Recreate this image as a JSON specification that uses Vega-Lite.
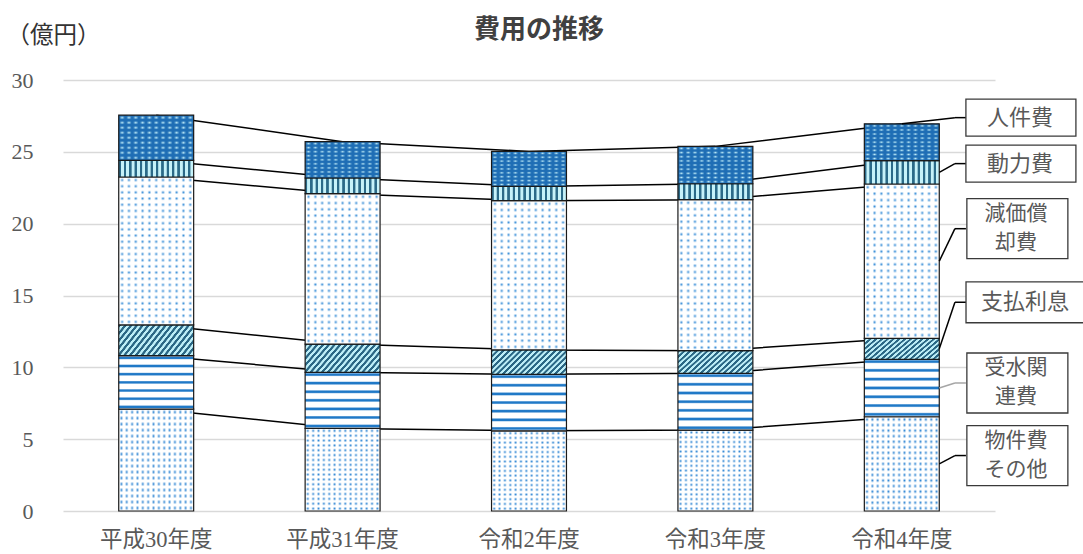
{
  "$schema": "https://vega.github.io/schema/vega-lite/v6.json",
  "width": 932,
  "height": 431,
  "autosize": {"type": "none"},
  "padding": {"left": 63, "top": 80, "right": 88, "bottom": 43},
  "background": "white",
  "title": {
    "text": "費用の推移",
    "frame": "group",
    "anchor": "middle",
    "baseline": "middle",
    "offset": 28,
    "dx": 10,
    "dy": 61,
    "font": "Noto Sans CJK JP",
    "fontSize": 26,
    "fontWeight": "bold",
    "color": "#404040"
  },
  "datasets": {
    "costs": [
      {"year": "平成30年度", "cat": "物件費その他", "value": 7.09},
      {"year": "平成30年度", "cat": "受水関連費", "value": 3.72},
      {"year": "平成30年度", "cat": "支払利息", "value": 2.14},
      {"year": "平成30年度", "cat": "減価償却費", "value": 10.30},
      {"year": "平成30年度", "cat": "動力費", "value": 1.16},
      {"year": "平成30年度", "cat": "人件費", "value": 3.14},
      {"year": "平成31年度", "cat": "物件費その他", "value": 5.75},
      {"year": "平成31年度", "cat": "受水関連費", "value": 3.90},
      {"year": "平成31年度", "cat": "支払利息", "value": 1.97},
      {"year": "平成31年度", "cat": "減価償却費", "value": 10.47},
      {"year": "平成31年度", "cat": "動力費", "value": 1.09},
      {"year": "平成31年度", "cat": "人件費", "value": 2.53},
      {"year": "令和2年度", "cat": "物件費その他", "value": 5.58},
      {"year": "令和2年度", "cat": "受水関連費", "value": 3.93},
      {"year": "令和2年度", "cat": "支払利息", "value": 1.70},
      {"year": "令和2年度", "cat": "減価償却費", "value": 10.39},
      {"year": "令和2年度", "cat": "動力費", "value": 0.99},
      {"year": "令和2年度", "cat": "人件費", "value": 2.44},
      {"year": "令和3年度", "cat": "物件費その他", "value": 5.63},
      {"year": "令和3年度", "cat": "受水関連費", "value": 3.95},
      {"year": "令和3年度", "cat": "支払利息", "value": 1.58},
      {"year": "令和3年度", "cat": "減価償却費", "value": 10.51},
      {"year": "令和3年度", "cat": "動力費", "value": 1.11},
      {"year": "令和3年度", "cat": "人件費", "value": 2.60},
      {"year": "令和4年度", "cat": "物件費その他", "value": 6.56},
      {"year": "令和4年度", "cat": "受水関連費", "value": 4.00},
      {"year": "令和4年度", "cat": "支払利息", "value": 1.46},
      {"year": "令和4年度", "cat": "減価償却費", "value": 10.74},
      {"year": "令和4年度", "cat": "動力費", "value": 1.63},
      {"year": "令和4年度", "cat": "人件費", "value": 2.56}
    ],
    "labels": [
      {"cat": "人件費", "label": "人件費", "labelY": 27.38},
      {"cat": "動力費", "label": "動力費", "labelY": 24.18},
      {"cat": "減価償却費", "label": "減価償\n却費", "labelY": 19.65},
      {"cat": "支払利息", "label": "支払利息", "labelY": 14.53},
      {"cat": "受水関連費", "label": "受水関\n連費", "labelY": 8.91},
      {"cat": "物件費その他", "label": "物件費\nその他", "labelY": 3.86}
    ]
  },
  "data": {"name": "costs"},
  "transform": [
    {"calculate": "indexof(['物件費その他','受水関連費','支払利息','減価償却費','動力費','人件費'], datum.cat)", "as": "k"},
    {"calculate": "indexof(['平成30年度','平成31年度','令和2年度','令和3年度','令和4年度'], datum.year)", "as": "yi"},
    {"stack": "value", "groupby": ["year"], "sort": [{"field": "k", "order": "ascending"}], "as": ["y0", "y1"]}
  ],
  "layer": [
    {
      "layer": [
        {
          "mark": {"type": "line", "color": "#000000", "strokeWidth": 1.5},
          "encoding": {
            "x": {
              "field": "year", "type": "nominal",
              "sort": ["平成30年度", "平成31年度", "令和2年度", "令和3年度", "令和4年度"],
              "scale": {"paddingInner": 0.598, "paddingOuter": 0.299},
              "axis": {
                "title": null, "labelAngle": 0,
                "labelFont": "Liberation Serif, Noto Sans CJK JP",
                "labelFontSize": 22.5, "labelColor": "#595959", "labelPadding": 17,
                "domain": false, "ticks": false, "grid": false
              }
            },
            "y": {
              "field": "y1", "type": "quantitative",
              "scale": {"domain": [0, 30], "nice": false},
              "axis": {
                "values": [0, 5, 10, 15, 20, 25, 30],
                "title": "（億円）", "titleAngle": 0, "titleAlign": "left", "titleBaseline": "middle",
                "titleX": -57, "titleY": -45, "titleFont": "Noto Sans CJK JP", "titleFontSize": 23.5,
                "titleFontWeight": "normal", "titleColor": "#333333",
                "labelFont": "Liberation Serif", "labelFontSize": 22, "labelColor": "#595959", "labelPadding": 30,
                "domain": false, "ticks": false, "grid": true, "gridColor": "#d9d9d9", "gridWidth": 1.5
              }
            },
            "detail": {"field": "cat"},
            "order": {"field": "yi"}
          }
        },
        {
          "transform": [{"filter": "datum.cat === '物件費その他'"}],
          "mark": {"type": "bar", "fill": {"gradient": "linear", "x1": 0, "y1": 0, "x2": 0, "y2": 1, "stops": [
            {"offset": 0.0059, "color": "#ffffff"}, {"offset": 0.0294, "color": "#2f86d4"}, {"offset": 0.0529, "color": "#ffffff"},
            {"offset": 0.0647, "color": "#ffffff"}, {"offset": 0.0882, "color": "#2f86d4"}, {"offset": 0.1117, "color": "#ffffff"},
            {"offset": 0.1236, "color": "#ffffff"}, {"offset": 0.1471, "color": "#2f86d4"}, {"offset": 0.1706, "color": "#ffffff"},
            {"offset": 0.1824, "color": "#ffffff"}, {"offset": 0.2059, "color": "#2f86d4"}, {"offset": 0.2294, "color": "#ffffff"},
            {"offset": 0.2412, "color": "#ffffff"}, {"offset": 0.2647, "color": "#2f86d4"}, {"offset": 0.2882, "color": "#ffffff"},
            {"offset": 0.3, "color": "#ffffff"}, {"offset": 0.3235, "color": "#2f86d4"}, {"offset": 0.347, "color": "#ffffff"},
            {"offset": 0.3589, "color": "#ffffff"}, {"offset": 0.3824, "color": "#2f86d4"}, {"offset": 0.4059, "color": "#ffffff"},
            {"offset": 0.4177, "color": "#ffffff"}, {"offset": 0.4412, "color": "#2f86d4"}, {"offset": 0.4647, "color": "#ffffff"},
            {"offset": 0.4765, "color": "#ffffff"}, {"offset": 0.5, "color": "#2f86d4"}, {"offset": 0.5235, "color": "#ffffff"},
            {"offset": 0.5353, "color": "#ffffff"}, {"offset": 0.5588, "color": "#2f86d4"}, {"offset": 0.5823, "color": "#ffffff"},
            {"offset": 0.5941, "color": "#ffffff"}, {"offset": 0.6176, "color": "#2f86d4"}, {"offset": 0.6411, "color": "#ffffff"},
            {"offset": 0.653, "color": "#ffffff"}, {"offset": 0.6765, "color": "#2f86d4"}, {"offset": 0.7, "color": "#ffffff"},
            {"offset": 0.7118, "color": "#ffffff"}, {"offset": 0.7353, "color": "#2f86d4"}, {"offset": 0.7588, "color": "#ffffff"},
            {"offset": 0.7706, "color": "#ffffff"}, {"offset": 0.7941, "color": "#2f86d4"}, {"offset": 0.8176, "color": "#ffffff"},
            {"offset": 0.8294, "color": "#ffffff"}, {"offset": 0.8529, "color": "#2f86d4"}, {"offset": 0.8764, "color": "#ffffff"},
            {"offset": 0.8883, "color": "#ffffff"}, {"offset": 0.9118, "color": "#2f86d4"}, {"offset": 0.9353, "color": "#ffffff"},
            {"offset": 0.9471, "color": "#ffffff"}, {"offset": 0.9706, "color": "#2f86d4"}, {"offset": 0.9941, "color": "#ffffff"}
          ]}},
          "encoding": {
            "x": {"field": "year", "type": "nominal", "sort": ["平成30年度", "平成31年度", "令和2年度", "令和3年度", "令和4年度"]},
            "y": {"field": "y0", "type": "quantitative"},
            "y2": {"field": "y1"}
          }
        },
        {
          "transform": [{"filter": "datum.cat === '物件費その他'"}],
          "mark": {"type": "bar", "stroke": "#1a1a1a", "strokeWidth": 1.2, "fill": {"gradient": "linear", "x1": 0, "y1": 0, "x2": 1, "y2": 0, "stops": [
            {"offset": 0.0107, "color": "rgba(255,255,255,1)"}, {"offset": 0.0357, "color": "rgba(255,255,255,0)"}, {"offset": 0.0607, "color": "rgba(255,255,255,1)"},
            {"offset": 0.0821, "color": "rgba(255,255,255,1)"}, {"offset": 0.1071, "color": "rgba(255,255,255,0)"}, {"offset": 0.1321, "color": "rgba(255,255,255,1)"},
            {"offset": 0.1536, "color": "rgba(255,255,255,1)"}, {"offset": 0.1786, "color": "rgba(255,255,255,0)"}, {"offset": 0.2036, "color": "rgba(255,255,255,1)"},
            {"offset": 0.225, "color": "rgba(255,255,255,1)"}, {"offset": 0.25, "color": "rgba(255,255,255,0)"}, {"offset": 0.275, "color": "rgba(255,255,255,1)"},
            {"offset": 0.2964, "color": "rgba(255,255,255,1)"}, {"offset": 0.3214, "color": "rgba(255,255,255,0)"}, {"offset": 0.3464, "color": "rgba(255,255,255,1)"},
            {"offset": 0.3679, "color": "rgba(255,255,255,1)"}, {"offset": 0.3929, "color": "rgba(255,255,255,0)"}, {"offset": 0.4179, "color": "rgba(255,255,255,1)"},
            {"offset": 0.4393, "color": "rgba(255,255,255,1)"}, {"offset": 0.4643, "color": "rgba(255,255,255,0)"}, {"offset": 0.4893, "color": "rgba(255,255,255,1)"},
            {"offset": 0.5107, "color": "rgba(255,255,255,1)"}, {"offset": 0.5357, "color": "rgba(255,255,255,0)"}, {"offset": 0.5607, "color": "rgba(255,255,255,1)"},
            {"offset": 0.5821, "color": "rgba(255,255,255,1)"}, {"offset": 0.6071, "color": "rgba(255,255,255,0)"}, {"offset": 0.6321, "color": "rgba(255,255,255,1)"},
            {"offset": 0.6536, "color": "rgba(255,255,255,1)"}, {"offset": 0.6786, "color": "rgba(255,255,255,0)"}, {"offset": 0.7036, "color": "rgba(255,255,255,1)"},
            {"offset": 0.725, "color": "rgba(255,255,255,1)"}, {"offset": 0.75, "color": "rgba(255,255,255,0)"}, {"offset": 0.775, "color": "rgba(255,255,255,1)"},
            {"offset": 0.7964, "color": "rgba(255,255,255,1)"}, {"offset": 0.8214, "color": "rgba(255,255,255,0)"}, {"offset": 0.8464, "color": "rgba(255,255,255,1)"},
            {"offset": 0.8679, "color": "rgba(255,255,255,1)"}, {"offset": 0.8929, "color": "rgba(255,255,255,0)"}, {"offset": 0.9179, "color": "rgba(255,255,255,1)"},
            {"offset": 0.9393, "color": "rgba(255,255,255,1)"}, {"offset": 0.9643, "color": "rgba(255,255,255,0)"}, {"offset": 0.9893, "color": "rgba(255,255,255,1)"}
          ]}},
          "encoding": {
            "x": {"field": "year", "type": "nominal", "sort": ["平成30年度", "平成31年度", "令和2年度", "令和3年度", "令和4年度"]},
            "y": {"field": "y0", "type": "quantitative"},
            "y2": {"field": "y1"}
          }
        },
        {
          "transform": [{"filter": "datum.cat === '受水関連費'"}],
          "mark": {"type": "bar", "stroke": "#1a1a1a", "strokeWidth": 1.2, "fill": {"gradient": "linear", "x1": 0, "y1": 0, "x2": 0, "y2": 1, "stops": [
            {"offset": 0.005, "color": "#ffffff"}, {"offset": 0.028, "color": "#2079c7"}, {"offset": 0.052, "color": "#2079c7"}, {"offset": 0.075, "color": "#ffffff"},
            {"offset": 0.158, "color": "#ffffff"}, {"offset": 0.181, "color": "#2079c7"}, {"offset": 0.205, "color": "#2079c7"}, {"offset": 0.228, "color": "#ffffff"},
            {"offset": 0.311, "color": "#ffffff"}, {"offset": 0.334, "color": "#2079c7"}, {"offset": 0.358, "color": "#2079c7"}, {"offset": 0.381, "color": "#ffffff"},
            {"offset": 0.464, "color": "#ffffff"}, {"offset": 0.487, "color": "#2079c7"}, {"offset": 0.511, "color": "#2079c7"}, {"offset": 0.534, "color": "#ffffff"},
            {"offset": 0.617, "color": "#ffffff"}, {"offset": 0.64, "color": "#2079c7"}, {"offset": 0.664, "color": "#2079c7"}, {"offset": 0.687, "color": "#ffffff"},
            {"offset": 0.77, "color": "#ffffff"}, {"offset": 0.793, "color": "#2079c7"}, {"offset": 0.817, "color": "#2079c7"}, {"offset": 0.84, "color": "#ffffff"},
            {"offset": 0.923, "color": "#ffffff"}, {"offset": 0.946, "color": "#2079c7"}, {"offset": 0.97, "color": "#2079c7"}, {"offset": 0.993, "color": "#ffffff"}
          ]}},
          "encoding": {
            "x": {"field": "year", "type": "nominal", "sort": ["平成30年度", "平成31年度", "令和2年度", "令和3年度", "令和4年度"]},
            "y": {"field": "y0", "type": "quantitative"},
            "y2": {"field": "y1"}
          }
        },
        {
          "transform": [{"filter": "datum.cat === '支払利息'"}],
          "mark": {"type": "bar", "stroke": "#1a1a1a", "strokeWidth": 1.2, "fill": {"gradient": "linear", "x1": 0, "y1": 0, "x2": 1.25, "y2": 0.41, "stops": [
            {"offset": 0, "color": "#2a6785"}, {"offset": 0.0222, "color": "#2a6785"}, {"offset": 0.0278, "color": "#bdeef7"}, {"offset": 0.05, "color": "#bdeef7"},
            {"offset": 0.0556, "color": "#2a6785"}, {"offset": 0.0778, "color": "#2a6785"}, {"offset": 0.0833, "color": "#bdeef7"}, {"offset": 0.1056, "color": "#bdeef7"},
            {"offset": 0.1111, "color": "#2a6785"}, {"offset": 0.1333, "color": "#2a6785"}, {"offset": 0.1389, "color": "#bdeef7"}, {"offset": 0.1611, "color": "#bdeef7"},
            {"offset": 0.1667, "color": "#2a6785"}, {"offset": 0.1889, "color": "#2a6785"}, {"offset": 0.1944, "color": "#bdeef7"}, {"offset": 0.2167, "color": "#bdeef7"},
            {"offset": 0.2222, "color": "#2a6785"}, {"offset": 0.2444, "color": "#2a6785"}, {"offset": 0.25, "color": "#bdeef7"}, {"offset": 0.2722, "color": "#bdeef7"},
            {"offset": 0.2778, "color": "#2a6785"}, {"offset": 0.3, "color": "#2a6785"}, {"offset": 0.3056, "color": "#bdeef7"}, {"offset": 0.3278, "color": "#bdeef7"},
            {"offset": 0.3333, "color": "#2a6785"}, {"offset": 0.3556, "color": "#2a6785"}, {"offset": 0.3611, "color": "#bdeef7"}, {"offset": 0.3833, "color": "#bdeef7"},
            {"offset": 0.3889, "color": "#2a6785"}, {"offset": 0.4111, "color": "#2a6785"}, {"offset": 0.4167, "color": "#bdeef7"}, {"offset": 0.4389, "color": "#bdeef7"},
            {"offset": 0.4444, "color": "#2a6785"}, {"offset": 0.4667, "color": "#2a6785"}, {"offset": 0.4722, "color": "#bdeef7"}, {"offset": 0.4944, "color": "#bdeef7"},
            {"offset": 0.5, "color": "#2a6785"}, {"offset": 0.5222, "color": "#2a6785"}, {"offset": 0.5278, "color": "#bdeef7"}, {"offset": 0.55, "color": "#bdeef7"},
            {"offset": 0.5556, "color": "#2a6785"}, {"offset": 0.5778, "color": "#2a6785"}, {"offset": 0.5833, "color": "#bdeef7"}, {"offset": 0.6056, "color": "#bdeef7"},
            {"offset": 0.6111, "color": "#2a6785"}, {"offset": 0.6333, "color": "#2a6785"}, {"offset": 0.6389, "color": "#bdeef7"}, {"offset": 0.6611, "color": "#bdeef7"},
            {"offset": 0.6667, "color": "#2a6785"}, {"offset": 0.6889, "color": "#2a6785"}, {"offset": 0.6944, "color": "#bdeef7"}, {"offset": 0.7167, "color": "#bdeef7"},
            {"offset": 0.7222, "color": "#2a6785"}, {"offset": 0.7444, "color": "#2a6785"}, {"offset": 0.75, "color": "#bdeef7"}, {"offset": 0.7722, "color": "#bdeef7"},
            {"offset": 0.7778, "color": "#2a6785"}, {"offset": 0.8, "color": "#2a6785"}, {"offset": 0.8056, "color": "#bdeef7"}, {"offset": 0.8278, "color": "#bdeef7"},
            {"offset": 0.8333, "color": "#2a6785"}, {"offset": 0.8556, "color": "#2a6785"}, {"offset": 0.8611, "color": "#bdeef7"}, {"offset": 0.8833, "color": "#bdeef7"},
            {"offset": 0.8889, "color": "#2a6785"}, {"offset": 0.9111, "color": "#2a6785"}, {"offset": 0.9167, "color": "#bdeef7"}, {"offset": 0.9389, "color": "#bdeef7"},
            {"offset": 0.9444, "color": "#2a6785"}, {"offset": 0.9667, "color": "#2a6785"}, {"offset": 0.9722, "color": "#bdeef7"}, {"offset": 0.9944, "color": "#bdeef7"}
          ]}},
          "encoding": {
            "x": {"field": "year", "type": "nominal", "sort": ["平成30年度", "平成31年度", "令和2年度", "令和3年度", "令和4年度"]},
            "y": {"field": "y0", "type": "quantitative"},
            "y2": {"field": "y1"}
          }
        },
        {
          "transform": [{"filter": "datum.cat === '減価償却費'"}],
          "mark": {"type": "bar", "fill": {"gradient": "linear", "x1": 0, "y1": 0, "x2": 0, "y2": 1, "stops": [
            {"offset": 0.0068, "color": "#ffffff"}, {"offset": 0.0208, "color": "#3a8fd8"}, {"offset": 0.0348, "color": "#ffffff"},
            {"offset": 0.0485, "color": "#ffffff"}, {"offset": 0.0625, "color": "#3a8fd8"}, {"offset": 0.0765, "color": "#ffffff"},
            {"offset": 0.0902, "color": "#ffffff"}, {"offset": 0.1042, "color": "#3a8fd8"}, {"offset": 0.1182, "color": "#ffffff"},
            {"offset": 0.1318, "color": "#ffffff"}, {"offset": 0.1458, "color": "#3a8fd8"}, {"offset": 0.1598, "color": "#ffffff"},
            {"offset": 0.1735, "color": "#ffffff"}, {"offset": 0.1875, "color": "#3a8fd8"}, {"offset": 0.2015, "color": "#ffffff"},
            {"offset": 0.2152, "color": "#ffffff"}, {"offset": 0.2292, "color": "#3a8fd8"}, {"offset": 0.2432, "color": "#ffffff"},
            {"offset": 0.2568, "color": "#ffffff"}, {"offset": 0.2708, "color": "#3a8fd8"}, {"offset": 0.2848, "color": "#ffffff"},
            {"offset": 0.2985, "color": "#ffffff"}, {"offset": 0.3125, "color": "#3a8fd8"}, {"offset": 0.3265, "color": "#ffffff"},
            {"offset": 0.3402, "color": "#ffffff"}, {"offset": 0.3542, "color": "#3a8fd8"}, {"offset": 0.3682, "color": "#ffffff"},
            {"offset": 0.3818, "color": "#ffffff"}, {"offset": 0.3958, "color": "#3a8fd8"}, {"offset": 0.4098, "color": "#ffffff"},
            {"offset": 0.4235, "color": "#ffffff"}, {"offset": 0.4375, "color": "#3a8fd8"}, {"offset": 0.4515, "color": "#ffffff"},
            {"offset": 0.4652, "color": "#ffffff"}, {"offset": 0.4792, "color": "#3a8fd8"}, {"offset": 0.4932, "color": "#ffffff"},
            {"offset": 0.5068, "color": "#ffffff"}, {"offset": 0.5208, "color": "#3a8fd8"}, {"offset": 0.5348, "color": "#ffffff"},
            {"offset": 0.5485, "color": "#ffffff"}, {"offset": 0.5625, "color": "#3a8fd8"}, {"offset": 0.5765, "color": "#ffffff"},
            {"offset": 0.5902, "color": "#ffffff"}, {"offset": 0.6042, "color": "#3a8fd8"}, {"offset": 0.6182, "color": "#ffffff"},
            {"offset": 0.6318, "color": "#ffffff"}, {"offset": 0.6458, "color": "#3a8fd8"}, {"offset": 0.6598, "color": "#ffffff"},
            {"offset": 0.6735, "color": "#ffffff"}, {"offset": 0.6875, "color": "#3a8fd8"}, {"offset": 0.7015, "color": "#ffffff"},
            {"offset": 0.7152, "color": "#ffffff"}, {"offset": 0.7292, "color": "#3a8fd8"}, {"offset": 0.7432, "color": "#ffffff"},
            {"offset": 0.7568, "color": "#ffffff"}, {"offset": 0.7708, "color": "#3a8fd8"}, {"offset": 0.7848, "color": "#ffffff"},
            {"offset": 0.7985, "color": "#ffffff"}, {"offset": 0.8125, "color": "#3a8fd8"}, {"offset": 0.8265, "color": "#ffffff"},
            {"offset": 0.8402, "color": "#ffffff"}, {"offset": 0.8542, "color": "#3a8fd8"}, {"offset": 0.8682, "color": "#ffffff"},
            {"offset": 0.8818, "color": "#ffffff"}, {"offset": 0.8958, "color": "#3a8fd8"}, {"offset": 0.9098, "color": "#ffffff"},
            {"offset": 0.9235, "color": "#ffffff"}, {"offset": 0.9375, "color": "#3a8fd8"}, {"offset": 0.9515, "color": "#ffffff"},
            {"offset": 0.9652, "color": "#ffffff"}, {"offset": 0.9792, "color": "#3a8fd8"}, {"offset": 0.9932, "color": "#ffffff"}
          ]}},
          "encoding": {
            "x": {"field": "year", "type": "nominal", "sort": ["平成30年度", "平成31年度", "令和2年度", "令和3年度", "令和4年度"]},
            "y": {"field": "y0", "type": "quantitative"},
            "y2": {"field": "y1"}
          }
        },
        {
          "transform": [{"filter": "datum.cat === '減価償却費'"}],
          "mark": {"type": "bar", "stroke": "#1a1a1a", "strokeWidth": 1.2, "fill": {"gradient": "linear", "x1": 0, "y1": 0, "x2": 1, "y2": 0, "stops": [
            {"offset": 0.0185, "color": "rgba(255,255,255,1)"}, {"offset": 0.0455, "color": "rgba(255,255,255,0)"}, {"offset": 0.0725, "color": "rgba(255,255,255,1)"},
            {"offset": 0.1094, "color": "rgba(255,255,255,1)"}, {"offset": 0.1364, "color": "rgba(255,255,255,0)"}, {"offset": 0.1634, "color": "rgba(255,255,255,1)"},
            {"offset": 0.2003, "color": "rgba(255,255,255,1)"}, {"offset": 0.2273, "color": "rgba(255,255,255,0)"}, {"offset": 0.2543, "color": "rgba(255,255,255,1)"},
            {"offset": 0.2912, "color": "rgba(255,255,255,1)"}, {"offset": 0.3182, "color": "rgba(255,255,255,0)"}, {"offset": 0.3452, "color": "rgba(255,255,255,1)"},
            {"offset": 0.3821, "color": "rgba(255,255,255,1)"}, {"offset": 0.4091, "color": "rgba(255,255,255,0)"}, {"offset": 0.4361, "color": "rgba(255,255,255,1)"},
            {"offset": 0.473, "color": "rgba(255,255,255,1)"}, {"offset": 0.5, "color": "rgba(255,255,255,0)"}, {"offset": 0.527, "color": "rgba(255,255,255,1)"},
            {"offset": 0.5639, "color": "rgba(255,255,255,1)"}, {"offset": 0.5909, "color": "rgba(255,255,255,0)"}, {"offset": 0.6179, "color": "rgba(255,255,255,1)"},
            {"offset": 0.6548, "color": "rgba(255,255,255,1)"}, {"offset": 0.6818, "color": "rgba(255,255,255,0)"}, {"offset": 0.7088, "color": "rgba(255,255,255,1)"},
            {"offset": 0.7457, "color": "rgba(255,255,255,1)"}, {"offset": 0.7727, "color": "rgba(255,255,255,0)"}, {"offset": 0.7997, "color": "rgba(255,255,255,1)"},
            {"offset": 0.8366, "color": "rgba(255,255,255,1)"}, {"offset": 0.8636, "color": "rgba(255,255,255,0)"}, {"offset": 0.8906, "color": "rgba(255,255,255,1)"},
            {"offset": 0.9275, "color": "rgba(255,255,255,1)"}, {"offset": 0.9545, "color": "rgba(255,255,255,0)"}, {"offset": 0.9815, "color": "rgba(255,255,255,1)"}
          ]}},
          "encoding": {
            "x": {"field": "year", "type": "nominal", "sort": ["平成30年度", "平成31年度", "令和2年度", "令和3年度", "令和4年度"]},
            "y": {"field": "y0", "type": "quantitative"},
            "y2": {"field": "y1"}
          }
        },
        {
          "transform": [{"filter": "datum.cat === '動力費'"}],
          "mark": {"type": "bar", "stroke": "#1a1a1a", "strokeWidth": 1.2, "fill": {"gradient": "linear", "x1": 0, "y1": 0, "x2": 1, "y2": 0, "stops": [
            {"offset": 0, "color": "#2b6a88"}, {"offset": 0.025, "color": "#2b6a88"}, {"offset": 0.0321, "color": "#c6f2f9"}, {"offset": 0.0643, "color": "#c6f2f9"},
            {"offset": 0.0714, "color": "#2b6a88"}, {"offset": 0.0964, "color": "#2b6a88"}, {"offset": 0.1036, "color": "#c6f2f9"}, {"offset": 0.1357, "color": "#c6f2f9"},
            {"offset": 0.1429, "color": "#2b6a88"}, {"offset": 0.1679, "color": "#2b6a88"}, {"offset": 0.175, "color": "#c6f2f9"}, {"offset": 0.2071, "color": "#c6f2f9"},
            {"offset": 0.2143, "color": "#2b6a88"}, {"offset": 0.2393, "color": "#2b6a88"}, {"offset": 0.2464, "color": "#c6f2f9"}, {"offset": 0.2786, "color": "#c6f2f9"},
            {"offset": 0.2857, "color": "#2b6a88"}, {"offset": 0.3107, "color": "#2b6a88"}, {"offset": 0.3179, "color": "#c6f2f9"}, {"offset": 0.35, "color": "#c6f2f9"},
            {"offset": 0.3571, "color": "#2b6a88"}, {"offset": 0.3821, "color": "#2b6a88"}, {"offset": 0.3893, "color": "#c6f2f9"}, {"offset": 0.4214, "color": "#c6f2f9"},
            {"offset": 0.4286, "color": "#2b6a88"}, {"offset": 0.4536, "color": "#2b6a88"}, {"offset": 0.4607, "color": "#c6f2f9"}, {"offset": 0.4929, "color": "#c6f2f9"},
            {"offset": 0.5, "color": "#2b6a88"}, {"offset": 0.525, "color": "#2b6a88"}, {"offset": 0.5321, "color": "#c6f2f9"}, {"offset": 0.5643, "color": "#c6f2f9"},
            {"offset": 0.5714, "color": "#2b6a88"}, {"offset": 0.5964, "color": "#2b6a88"}, {"offset": 0.6036, "color": "#c6f2f9"}, {"offset": 0.6357, "color": "#c6f2f9"},
            {"offset": 0.6429, "color": "#2b6a88"}, {"offset": 0.6679, "color": "#2b6a88"}, {"offset": 0.675, "color": "#c6f2f9"}, {"offset": 0.7071, "color": "#c6f2f9"},
            {"offset": 0.7143, "color": "#2b6a88"}, {"offset": 0.7393, "color": "#2b6a88"}, {"offset": 0.7464, "color": "#c6f2f9"}, {"offset": 0.7786, "color": "#c6f2f9"},
            {"offset": 0.7857, "color": "#2b6a88"}, {"offset": 0.8107, "color": "#2b6a88"}, {"offset": 0.8179, "color": "#c6f2f9"}, {"offset": 0.85, "color": "#c6f2f9"},
            {"offset": 0.8571, "color": "#2b6a88"}, {"offset": 0.8821, "color": "#2b6a88"}, {"offset": 0.8893, "color": "#c6f2f9"}, {"offset": 0.9214, "color": "#c6f2f9"},
            {"offset": 0.9286, "color": "#2b6a88"}, {"offset": 0.9536, "color": "#2b6a88"}, {"offset": 0.9607, "color": "#c6f2f9"}, {"offset": 0.9929, "color": "#c6f2f9"}
          ]}},
          "encoding": {
            "x": {"field": "year", "type": "nominal", "sort": ["平成30年度", "平成31年度", "令和2年度", "令和3年度", "令和4年度"]},
            "y": {"field": "y0", "type": "quantitative"},
            "y2": {"field": "y1"}
          }
        },
        {
          "transform": [{"filter": "datum.cat === '人件費'"}],
          "mark": {"type": "bar", "fill": {"gradient": "linear", "x1": 0, "y1": 0, "x2": 0, "y2": 1, "stops": [
            {"offset": 0.0156, "color": "#1f6eb5"}, {"offset": 0.0556, "color": "#c3f0fb"}, {"offset": 0.0956, "color": "#1f6eb5"},
            {"offset": 0.1267, "color": "#1f6eb5"}, {"offset": 0.1667, "color": "#c3f0fb"}, {"offset": 0.2067, "color": "#1f6eb5"},
            {"offset": 0.2378, "color": "#1f6eb5"}, {"offset": 0.2778, "color": "#c3f0fb"}, {"offset": 0.3178, "color": "#1f6eb5"},
            {"offset": 0.3489, "color": "#1f6eb5"}, {"offset": 0.3889, "color": "#c3f0fb"}, {"offset": 0.4289, "color": "#1f6eb5"},
            {"offset": 0.46, "color": "#1f6eb5"}, {"offset": 0.5, "color": "#c3f0fb"}, {"offset": 0.54, "color": "#1f6eb5"},
            {"offset": 0.5711, "color": "#1f6eb5"}, {"offset": 0.6111, "color": "#c3f0fb"}, {"offset": 0.6511, "color": "#1f6eb5"},
            {"offset": 0.6822, "color": "#1f6eb5"}, {"offset": 0.7222, "color": "#c3f0fb"}, {"offset": 0.7622, "color": "#1f6eb5"},
            {"offset": 0.7933, "color": "#1f6eb5"}, {"offset": 0.8333, "color": "#c3f0fb"}, {"offset": 0.8733, "color": "#1f6eb5"},
            {"offset": 0.9044, "color": "#1f6eb5"}, {"offset": 0.9444, "color": "#c3f0fb"}, {"offset": 0.9844, "color": "#1f6eb5"}
          ]}},
          "encoding": {
            "x": {"field": "year", "type": "nominal", "sort": ["平成30年度", "平成31年度", "令和2年度", "令和3年度", "令和4年度"]},
            "y": {"field": "y0", "type": "quantitative"},
            "y2": {"field": "y1"}
          }
        },
        {
          "transform": [{"filter": "datum.cat === '人件費'"}],
          "mark": {"type": "bar", "stroke": "#1a1a1a", "strokeWidth": 1.2, "fill": {"gradient": "linear", "x1": 0, "y1": 0, "x2": 1, "y2": 0, "stops": [
            {"offset": 0.0105, "color": "rgba(31,110,181,1)"}, {"offset": 0.0455, "color": "rgba(31,110,181,0)"}, {"offset": 0.0805, "color": "rgba(31,110,181,1)"},
            {"offset": 0.1014, "color": "rgba(31,110,181,1)"}, {"offset": 0.1364, "color": "rgba(31,110,181,0)"}, {"offset": 0.1714, "color": "rgba(31,110,181,1)"},
            {"offset": 0.1923, "color": "rgba(31,110,181,1)"}, {"offset": 0.2273, "color": "rgba(31,110,181,0)"}, {"offset": 0.2623, "color": "rgba(31,110,181,1)"},
            {"offset": 0.2832, "color": "rgba(31,110,181,1)"}, {"offset": 0.3182, "color": "rgba(31,110,181,0)"}, {"offset": 0.3532, "color": "rgba(31,110,181,1)"},
            {"offset": 0.3741, "color": "rgba(31,110,181,1)"}, {"offset": 0.4091, "color": "rgba(31,110,181,0)"}, {"offset": 0.4441, "color": "rgba(31,110,181,1)"},
            {"offset": 0.465, "color": "rgba(31,110,181,1)"}, {"offset": 0.5, "color": "rgba(31,110,181,0)"}, {"offset": 0.535, "color": "rgba(31,110,181,1)"},
            {"offset": 0.5559, "color": "rgba(31,110,181,1)"}, {"offset": 0.5909, "color": "rgba(31,110,181,0)"}, {"offset": 0.6259, "color": "rgba(31,110,181,1)"},
            {"offset": 0.6468, "color": "rgba(31,110,181,1)"}, {"offset": 0.6818, "color": "rgba(31,110,181,0)"}, {"offset": 0.7168, "color": "rgba(31,110,181,1)"},
            {"offset": 0.7377, "color": "rgba(31,110,181,1)"}, {"offset": 0.7727, "color": "rgba(31,110,181,0)"}, {"offset": 0.8077, "color": "rgba(31,110,181,1)"},
            {"offset": 0.8286, "color": "rgba(31,110,181,1)"}, {"offset": 0.8636, "color": "rgba(31,110,181,0)"}, {"offset": 0.8986, "color": "rgba(31,110,181,1)"},
            {"offset": 0.9195, "color": "rgba(31,110,181,1)"}, {"offset": 0.9545, "color": "rgba(31,110,181,0)"}, {"offset": 0.9895, "color": "rgba(31,110,181,1)"}
          ]}},
          "encoding": {
            "x": {"field": "year", "type": "nominal", "sort": ["平成30年度", "平成31年度", "令和2年度", "令和3年度", "令和4年度"]},
            "y": {"field": "y0", "type": "quantitative"},
            "y2": {"field": "y1"}
          }
        }
      ]
    },
    {
      "transform": [
        {"filter": "datum.year === '令和4年度'"},
        {"lookup": "cat", "from": {"data": {"name": "labels"}, "key": "cat", "fields": ["label", "labelY"]}},
        {"calculate": "(datum.y0 + datum.y1) / 2", "as": "mid"}
      ],
      "layer": [
        {
          "transform": [{"filter": "datum.cat !== '人件費'"}],
          "mark": {"type": "rule", "strokeWidth": 1.5},
          "encoding": {
            "x": {"datum": 4.701, "type": "quantitative", "scale": {"domain": [0, 5], "nice": false, "zero": false}, "axis": null},
            "x2": {"datum": 4.785},
            "y": {"field": "mid", "type": "quantitative"},
            "y2": {"field": "labelY"},
            "color": {"condition": {"test": "datum.cat === '受水関連費'", "value": "#a6a6a6"}, "value": "#000000"}
          }
        },
        {
          "transform": [{"filter": "datum.cat === '人件費'"}],
          "mark": {"type": "rule", "strokeWidth": 1.5, "color": "#000000"},
          "encoding": {
            "x": {"datum": 4.501, "type": "quantitative", "axis": null},
            "x2": {"datum": 4.785},
            "y": {"field": "y1", "type": "quantitative"},
            "y2": {"field": "labelY"}
          }
        },
        {
          "mark": {"type": "rule", "strokeWidth": 1.5},
          "encoding": {
            "x": {"datum": 4.785, "type": "quantitative", "axis": null},
            "x2": {"datum": 4.844},
            "y": {"field": "labelY", "type": "quantitative"},
            "color": {"condition": {"test": "datum.cat === '受水関連費'", "value": "#a6a6a6"}, "value": "#000000"}
          }
        },
        {
          "transform": [{"filter": "datum.cat === '人件費' || datum.cat === '動力費'"}],
          "mark": {"type": "point", "shape": "M-1,-0.336H1V0.336H-1Z", "size": 12100, "filled": true, "fill": "#ffffff", "stroke": "#3a3a3a", "strokeWidth": 1.3, "opacity": 1},
          "encoding": {
            "x": {"datum": 5.139, "type": "quantitative", "axis": null},
            "y": {"field": "labelY", "type": "quantitative"}
          }
        },
        {
          "transform": [{"filter": "datum.cat === '支払利息'"}],
          "mark": {"type": "point", "shape": "M-1,-0.347H1V0.347H-1Z", "size": 13924, "filled": true, "fill": "#ffffff", "stroke": "#3a3a3a", "strokeWidth": 1.3, "opacity": 1},
          "encoding": {
            "x": {"datum": 5.161, "type": "quantitative", "axis": null},
            "y": {"field": "labelY", "type": "quantitative"}
          }
        },
        {
          "transform": [{"filter": "datum.cat === '減価償却費' || datum.cat === '受水関連費' || datum.cat === '物件費その他'"}],
          "mark": {"type": "point", "shape": "M-1,-0.594H1V0.594H-1Z", "size": 10201, "filled": true, "fill": "#ffffff", "stroke": "#3a3a3a", "strokeWidth": 1.3, "opacity": 1},
          "encoding": {
            "x": {"datum": 5.12, "type": "quantitative", "axis": null},
            "y": {"field": "labelY", "type": "quantitative"}
          }
        },
        {
          "transform": [{"filter": "datum.cat === '人件費' || datum.cat === '動力費'"}],
          "mark": {"type": "text", "font": "Noto Sans CJK JP", "fontSize": 22, "color": "#595959", "align": "center", "baseline": "middle"},
          "encoding": {
            "x": {"datum": 5.134, "type": "quantitative", "axis": null},
            "y": {"field": "labelY", "type": "quantitative"},
            "text": {"field": "label"}
          }
        },
        {
          "transform": [{"filter": "datum.cat === '支払利息'"}],
          "mark": {"type": "text", "font": "Noto Sans CJK JP", "fontSize": 22, "color": "#595959", "align": "center", "baseline": "middle"},
          "encoding": {
            "x": {"datum": 5.161, "type": "quantitative", "axis": null},
            "y": {"field": "labelY", "type": "quantitative"},
            "text": {"field": "label"}
          }
        },
        {
          "transform": [{"filter": "datum.cat === '減価償却費' || datum.cat === '受水関連費' || datum.cat === '物件費その他'"}],
          "mark": {"type": "text", "font": "Noto Sans CJK JP", "fontSize": 21, "color": "#595959", "align": "center", "baseline": "middle", "lineBreak": "\n", "lineHeight": 29, "dy": -14.5},
          "encoding": {
            "x": {"datum": 5.112, "type": "quantitative", "axis": null},
            "y": {"field": "labelY", "type": "quantitative"},
            "text": {"field": "label"}
          }
        }
      ]
    }
  ],
  "resolve": {"scale": {"x": "independent"}},
  "config": {
    "view": {"stroke": null},
    "font": "Noto Sans CJK JP"
  }
}
